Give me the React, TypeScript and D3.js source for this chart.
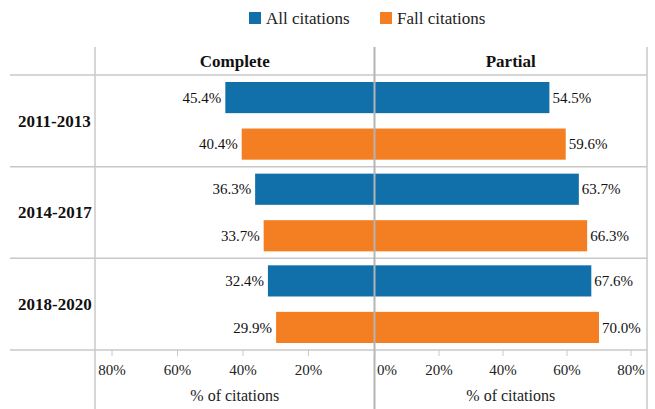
import { useMemo } from "react";
import * as d3 from "d3";

// data
const periods = ["2011-2013", "2014-2017", "2018-2020"];
const seriesNames = ["All citations", "Fall citations"];
const completeAll = [45.4, 36.3, 32.4];
const completeFall = [40.4, 33.7, 29.9];
const partialAll = [54.5, 63.7, 67.6];
const partialFall = [59.6, 66.3, 70.0];
const panelTitles = ["Complete", "Partial"];
const tickValues = [0, 20, 40, 60, 80];
const axisTitle = "% of citations";

const colors = ["#1170aa", "#f47f22"];
const gridColor = "#c8c8c8";
const font = "Liberation Serif";

const W = 655;
const H = 409;

export default function App() {
  const leftX = 95;
  const midX = 374.5;
  const rightX = 647;
  const headerTop = 47;
  const rowTop = 75;
  const rowBottom = 350;

  const xLeft = useMemo(
    () => d3.scaleLinear().domain([0, 85.2]).range([midX - 0.5, leftX]),
    [],
  );
  const xRight = useMemo(
    () => d3.scaleLinear().domain([0, 85]).range([midX + 0.5, rightX]),
    [],
  );
  const yGroup = useMemo(
    () => d3.scaleBand().domain(periods).range([rowTop, rowBottom]),
    [],
  );
  const ySeries = useMemo(
    () =>
      d3
        .scaleBand()
        .domain(seriesNames)
        .range([0, yGroup.bandwidth()])
        .paddingInner(0.33)
        .paddingOuter(0.15),
    [yGroup],
  );

  const fmt = (v: number) => d3.format(".1f")(v) + "%";

  const panels = [
    { scale: xLeft, values: [completeAll, completeFall], side: "left" },
    { scale: xRight, values: [partialAll, partialFall], side: "right" },
  ];

  return (
    <svg
      width={W}
      height={H}
      style={{ position: "absolute", left: 0, top: 0, background: "#fff" }}
    >
      {/* legend */}
      <g>
        {seriesNames.map((name, i) => {
          const lx = i === 0 ? 249 : 380;
          return (
            <g key={name} transform={`translate(${lx},12)`}>
              <rect width={12} height={12} fill={colors[i]} />
              <text x={17} y={6} dy="0.35em" fontSize={17} fontFamily={font} fill="#222">
                {name}
              </text>
            </g>
          );
        })}
      </g>

      {/* grid lines */}
      {[rowTop, ...periods.map((p) => yGroup(p)! + yGroup.bandwidth())].map(
        (y, i) => (
          <line
            key={i}
            x1={10}
            x2={rightX}
            y1={y}
            y2={y}
            stroke={gridColor}
            strokeWidth={1.5}
          />
        ),
      )}
      <line x1={leftX} x2={leftX} y1={headerTop} y2={H} stroke={gridColor} strokeWidth={1.5} />
      <line x1={rightX} x2={rightX} y1={headerTop} y2={H} stroke={gridColor} strokeWidth={1.5} />

      {/* panel headers */}
      {panelTitles.map((t, i) => (
        <text
          key={t}
          x={i === 0 ? (leftX + midX) / 2 : (midX + rightX) / 2}
          y={61}
          dy="0.35em"
          textAnchor="middle"
          fontSize={17}
          fontWeight="bold"
          fontFamily={font}
          fill="#111"
        >
          {t}
        </text>
      ))}

      {/* row labels */}
      {periods.map((p) => (
        <text
          key={p}
          x={18}
          y={yGroup(p)! + yGroup.bandwidth() / 2}
          dy="0.35em"
          fontSize={17}
          fontWeight="bold"
          fontFamily={font}
          fill="#111"
        >
          {p}
        </text>
      ))}

      {/* bars */}
      {panels.map((panel) =>
        panel.values.map((vals, si) =>
          vals.map((v, gi) => {
            const y = yGroup(periods[gi])! + ySeries(seriesNames[si])!;
            const x0 = panel.scale(0);
            const x1 = panel.scale(v);
            const left = panel.side === "left";
            return (
              <g key={`${panel.side}-${si}-${gi}`}>
                <rect
                  x={Math.min(x0, x1)}
                  y={y}
                  width={Math.abs(x1 - x0)}
                  height={ySeries.bandwidth()}
                  fill={colors[si]}
                />
                <text
                  x={left ? x1 - 4 : x1 + 3}
                  y={y + ySeries.bandwidth() / 2}
                  dy="0.35em"
                  textAnchor={left ? "end" : "start"}
                  fontSize={15}
                  fontFamily={font}
                  fill="#111"
                >
                  {fmt(v)}
                </text>
              </g>
            );
          }),
        ),
      )}

      {/* centre divider */}
      <line x1={midX} x2={midX} y1={headerTop} y2={H} stroke="#b4b4b4" strokeWidth={2} />

      {/* axes */}
      {panels.map((panel) => (
        <g key={`axis-${panel.side}`}>
          {tickValues.map((t) => {
            const x = panel.scale(t);
            if (panel.side === "left" && t === 0) return null;
            const zeroRight = panel.side === "right" && t === 0;
            return (
              <g key={t}>
                <line x1={x} x2={x} y1={rowBottom} y2={rowBottom + 6} stroke={gridColor} />
                <text
                  x={zeroRight ? x + 2 : x}
                  y={370}
                  dy="0.35em"
                  textAnchor={zeroRight ? "start" : "middle"}
                  fontSize={15}
                  fontFamily={font}
                  fill="#222"
                >
                  {t}%
                </text>
              </g>
            );
          })}
          <text
            x={panel.side === "left" ? (leftX + midX) / 2 : (midX + rightX) / 2}
            y={395}
            dy="0.35em"
            textAnchor="middle"
            fontSize={16}
            fontFamily={font}
            fill="#222"
          >
            {axisTitle}
          </text>
        </g>
      ))}
    </svg>
  );
}
